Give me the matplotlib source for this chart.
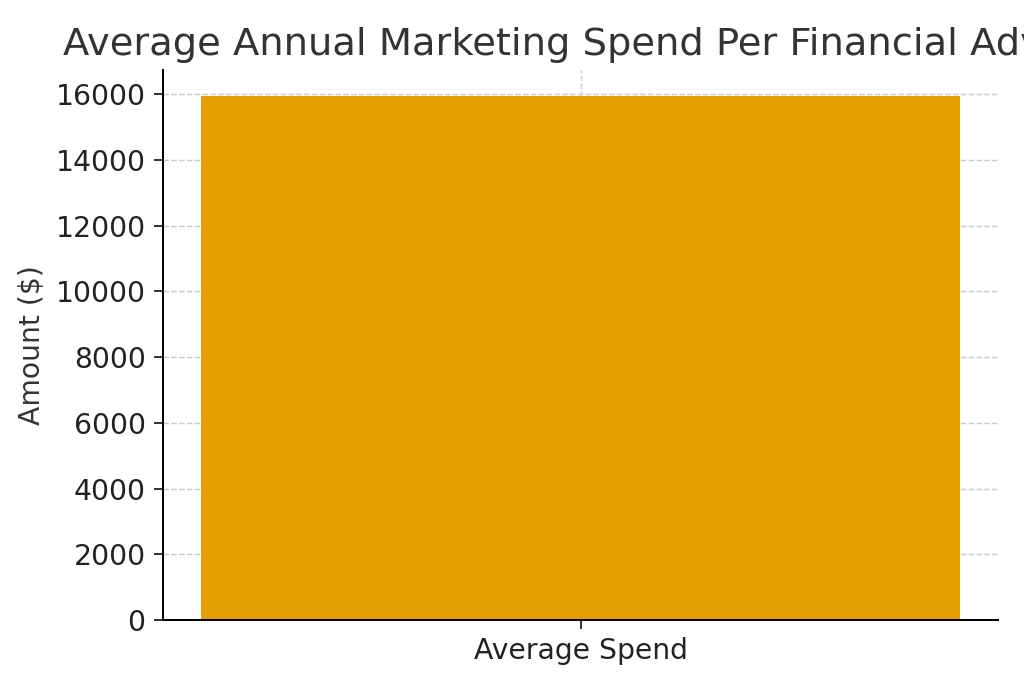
import matplotlib
matplotlib.use("Agg")
import matplotlib.pyplot as plt

categories = ["Average Spend"]
values = [15950]

dpi = 177
fig, ax = plt.subplots(figsize=(1024/dpi, 683/dpi), dpi=dpi)
ax.bar(categories, values, color="#E69F00", width=0.8, zorder=2)
ax.set_title("Average Annual Marketing Spend Per Financial Advisor", fontsize=15.6, color="#333333", loc="left", x=-0.12)
ax.set_ylabel("Amount ($)", color="#333333", fontsize=11.5)
ax.grid(True, linestyle="--", color="#cccccc", linewidth=0.6, zorder=0)
ax.spines["top"].set_visible(False)
ax.spines["right"].set_visible(False)
ax.tick_params(colors="#333333", labelsize=11.5)
for lbl in ax.get_xticklabels() + ax.get_yticklabels():
    lbl.set_color("#222222")
fig.subplots_adjust(left=0.159, right=0.975, top=0.898, bottom=0.092)
fig.savefig("out.png", dpi=dpi)
